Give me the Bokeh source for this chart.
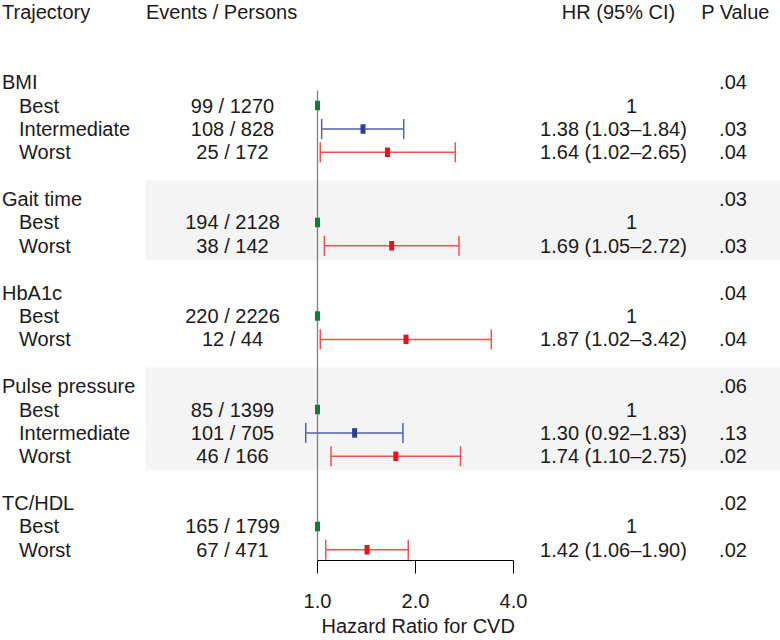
from bokeh.plotting import figure
from bokeh.models import (Range1d, FixedTicker, PrintfTickFormatter, LabelSet,
                          ColumnDataSource, BoxAnnotation, Title)
from bokeh.core.properties import value
from bokeh.embed import file_html
from bokeh.resources import INLINE

# ---------------- data ----------------
traits = ["BMI", "Gait time", "HbA1c", "Pulse pressure", "TC/HDL"]
trait_p = [".04", ".03", ".04", ".06", ".02"]
trait_nlev = [3, 2, 2, 3, 2]

row_level = ["Best", "Intermediate", "Worst",
             "Best", "Worst",
             "Best", "Worst",
             "Best", "Intermediate", "Worst",
             "Best", "Worst"]
row_events = [99, 108, 25, 194, 38, 220, 12, 85, 101, 46, 165, 67]
row_persons = [1270, 828, 172, 2128, 142, 2226, 44, 1399, 705, 166, 1799, 471]
row_hr = [1.0, 1.38, 1.64, 1.0, 1.69, 1.0, 1.87, 1.0, 1.30, 1.74, 1.0, 1.42]
row_lo = [None, 1.03, 1.02, None, 1.05, None, 1.02, None, 0.92, 1.10, None, 1.06]
row_hi = [None, 1.84, 2.65, None, 2.72, None, 3.42, None, 1.83, 2.75, None, 1.90]
row_p = ["", ".03", ".04", "", ".03", "", ".04", "", ".13", ".02", "", ".02"]

headers = ["Trajectory", "Events / Persons", "HR (95% CI)", "P Value"]
x_ticks = [1, 2, 4]
x_title = "Hazard Ratio for CVD"
REF_HR = 1.0

# ---------------- layout / style ----------------
W, H = 780, 640
FRAME_H = 560
REF_SX = 317          # screen x of HR = 1
PX_PER_DOUBLING = 98
ROW0_SY = 81.7        # screen y of first row
ROW_PX = 23.38
FONT = "Liberation Sans"
FS = "20px"
TXT = "#1a1a1a"
LEVEL_MARK = {"Best": "#0b7d3e", "Intermediate": "#2e3d97", "Worst": "#e3141b"}
LEVEL_LINE = {"Intermediate": "#5262b5", "Worst": "#ef5050"}

COL_TRAIT, COL_LEVEL, COL_EVENTS = 1.5, 18.5, 232
COL_HR, COL_HR_REF, COL_P = 613, 631, 732.5
SHADE_LEFT = 145
TITLE_LEFT = 321

y_top = ROW0_SY / ROW_PX
y_bot = -(FRAME_H - ROW0_SY) / ROW_PX

# ---------------- rows ----------------
trait_rows, trait_last = [], []
lev_rows = []
pos = 0
for t, n in zip(traits, trait_nlev):
    trait_rows.append(pos)
    lev_rows.extend(range(pos + 1, pos + 1 + n))
    trait_last.append(pos + n)
    pos += n + 2

p = figure(width=W, height=H, x_axis_type="log",
           x_range=Range1d(2 ** (-REF_SX / PX_PER_DOUBLING), 2 ** ((W - REF_SX) / PX_PER_DOUBLING)),
           y_range=Range1d(y_bot, y_top),
           y_axis_location=None, toolbar_location=None, output_backend="svg",
           min_border_left=0, min_border_right=0, min_border_top=0,
           min_border_bottom=H - FRAME_H, title=None)
p.outline_line_color = None
p.xgrid.visible = False
p.ygrid.visible = False
p.background_fill_color = "white"

# shaded bands for alternate groups
for i in (1, 3):
    p.add_layout(BoxAnnotation(left=SHADE_LEFT, left_units="screen", right=W, right_units="screen",
                               top=-(trait_rows[i] - 0.8), bottom=-(trait_last[i] + 0.6),
                               fill_color="#f4f4f4", fill_alpha=1.0, line_color=None,
                               level="underlay"))

# reference line
p.segment(x0=[REF_HR], y0=[-0.35], x1=[REF_HR], y1=[y_bot - 1],
          line_color="#808080", line_width=1.3)

# CIs
for lev in ("Intermediate", "Worst"):
    idx = [k for k, l in enumerate(row_level) if l == lev]
    src = ColumnDataSource(dict(lo=[row_lo[k] for k in idx], hi=[row_hi[k] for k in idx],
                                y=[-lev_rows[k] for k in idx]))
    p.segment(x0="lo", y0="y", x1="hi", y1="y", source=src,
              line_color=LEVEL_LINE[lev], line_width=1.5)
    for col in ("lo", "hi"):
        p.rect(x=col, y="y", width=1.5, height=20, width_units="screen", height_units="screen",
               source=src, fill_color=LEVEL_LINE[lev], line_color=None)

# point estimates
msrc = ColumnDataSource(dict(x=row_hr, y=[-r for r in lev_rows],
                             c=[LEVEL_MARK[l] for l in row_level]))
p.rect(x="x", y="y", width=5, height=9.5, width_units="screen", height_units="screen",
       source=msrc, fill_color="c", line_color=None)

# axis
ax = p.xaxis[0]
ax.ticker = FixedTicker(ticks=x_ticks)
ax.formatter = PrintfTickFormatter(format="%.1f")
ax.bounds = (min(x_ticks), max(x_ticks))
ax.major_tick_in = 0
ax.major_tick_out = 13
ax.minor_tick_line_color = None
ax.axis_line_color = "black"
ax.major_tick_line_color = "black"
ax.major_label_text_font = FONT
ax.major_label_text_font_size = FS
ax.major_label_text_color = TXT
ax.major_label_standoff = 20

# axis title, placed under the bounded axis
p.add_layout(Title(text=x_title, align="left", offset=TITLE_LEFT,
                   standoff=5, text_font=FONT, text_font_size=FS, text_font_style="normal",
                   text_color=TXT), "below")


def labels(xs, ys, texts, align):
    src = ColumnDataSource(dict(x=xs, y=ys, t=texts))
    p.add_layout(LabelSet(x="x", y="y", text="t", source=src, x_units="screen", y_units="data",
                          text_align=align, text_baseline="middle", text_font=value(FONT),
                          text_font_size=value(FS), text_color=TXT))


hy = -(11.5 - ROW0_SY) / ROW_PX
labels([COL_TRAIT, 145.5], [hy, hy], headers[:2], "left")
labels([618, 735], [hy, hy], headers[2:], "center")

labels([COL_TRAIT] * len(traits), [-r for r in trait_rows], traits, "left")
labels([COL_P] * len(traits), [-r for r in trait_rows], trait_p, "center")

labels([COL_LEVEL] * len(row_level), [-r for r in lev_rows], row_level, "left")
labels([COL_EVENTS] * len(row_level), [-r for r in lev_rows],
       [f"{e} / {n}" for e, n in zip(row_events, row_persons)], "center")

ref_k = [k for k, l in enumerate(row_level) if l == "Best"]
oth_k = [k for k, l in enumerate(row_level) if l != "Best"]
labels([COL_HR_REF] * len(ref_k), [-lev_rows[k] for k in ref_k], ["1"] * len(ref_k), "center")
labels([COL_HR] * len(oth_k), [-lev_rows[k] for k in oth_k],
       [f"{row_hr[k]:.2f} ({row_lo[k]:.2f}\u2013{row_hi[k]:.2f})" for k in oth_k], "center")
labels([COL_P] * len(oth_k), [-lev_rows[k] for k in oth_k], [row_p[k] for k in oth_k], "center")

open("out.html", "w").write(file_html(p, INLINE))
